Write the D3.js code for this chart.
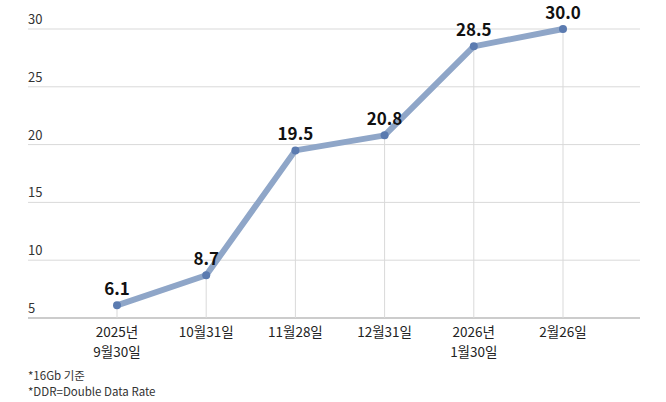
<!DOCTYPE html><html><head><meta charset="utf-8"><script src="https://cdn.jsdelivr.net/npm/d3@7"></script>
<style>body{margin:0;background:#fff}text{font-family:"Noto Sans CJK KR","Liberation Sans Narrow",sans-serif}</style></head><body>
<svg id="c" width="666" height="402"></svg>
<script>
const categories=[["2025년","9월30일"],["10월31일"],["11월28일"],["12월31일"],["2026년","1월30일"],["2월26일"]];
const values=[6.1,8.7,19.5,20.8,28.5,30.0];
const yTicks=[5,10,15,20,25,30];
const notes=["*16Gb 기준","*DDR=Double Data Rate"];
const svg=d3.select("#c");
const x=d3.scalePoint().domain(d3.range(values.length)).range([117,563]);
const y=d3.scaleLinear().domain([5,30]).range([318,29]);
svg.selectAll(".g").data(yTicks).join("line").attr("x1",28).attr("x2",640).attr("y1",d=>y(d)).attr("y2",d=>y(d)).attr("stroke",d=>d===5?"#999":"#d9d9d9").attr("stroke-width",1);
svg.selectAll(".yt").data(yTicks).join("text").attr("x",28).attr("y",d=>y(d)-5).attr("font-size",13).attr("fill","#333").text(d=>d);
svg.selectAll(".v").data(values).join("line").attr("x1",(d,i)=>x(i)).attr("x2",(d,i)=>x(i)).attr("y1",d=>y(d)).attr("y2",318).attr("stroke","#d9d9d9");
svg.append("path").datum(values).attr("d",d3.line().x((d,i)=>x(i)).y(d=>y(d))).attr("fill","none").attr("stroke","#8fa6c8").attr("stroke-width",6).attr("stroke-linejoin","round");
svg.selectAll(".p").data(values).join("circle").attr("cx",(d,i)=>x(i)).attr("cy",d=>y(d)).attr("r",4).attr("fill","#5b7bb0");
svg.selectAll(".l").data(values).join("text").attr("x",(d,i)=>x(i)).attr("y",d=>y(d)-10).attr("text-anchor","middle").attr("font-size",17).attr("font-weight","bold").attr("font-family","Liberation Sans Narrow").attr("fill","#111").text(d=>d.toFixed(1));
categories.forEach((c,i)=>{c.forEach((s,j)=>svg.append("text").attr("text-anchor","middle").attr("font-size",13.5).attr("fill","#222").attr("x",x(i)).attr("y",337+j*20).text(s));});
notes.forEach((n,i)=>svg.append("text").attr("x",28).attr("y",380+i*16).attr("font-size",11.5).attr("fill","#333").text(n));
</script></body></html>
